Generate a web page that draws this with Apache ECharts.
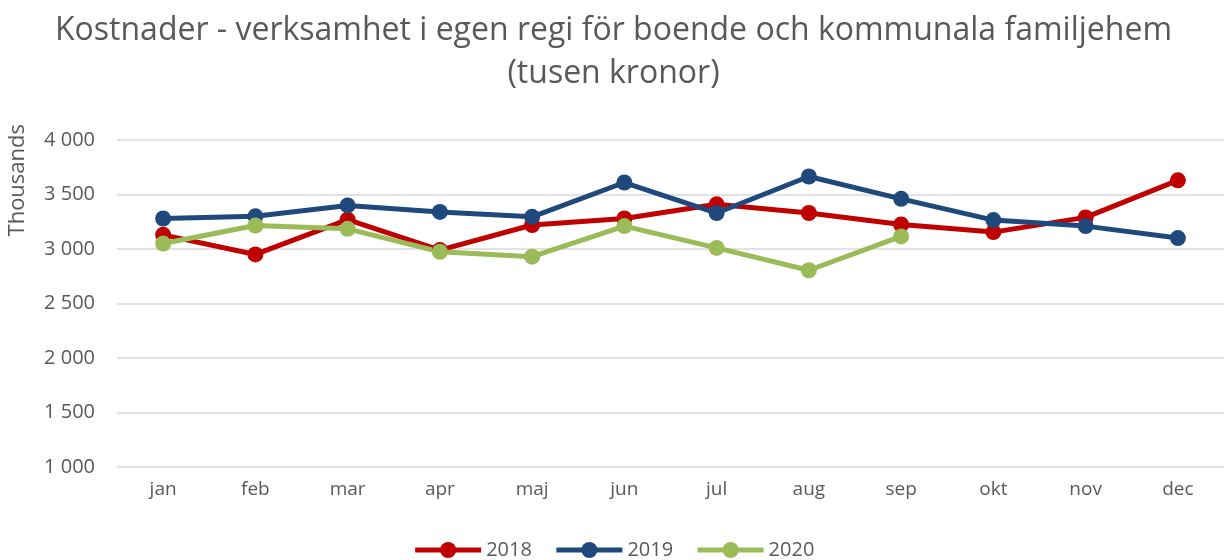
<!DOCTYPE html>
<html>
<head>
<meta charset="utf-8">
<script src="https://cdn.jsdelivr.net/npm/echarts@6/dist/echarts.min.js"></script>
<style>
html, body { margin: 0; padding: 0; background: #fff; }
#chart { width: 1227px; height: 560px; }
</style>
</head>
<body>
<div id="chart"></div>
<script>
var months = ['jan', 'feb', 'mar', 'apr', 'maj', 'jun', 'jul', 'aug', 'sep', 'okt', 'nov', 'dec'];
var y2018 = [3130, 2950, 3270, 2990, 3220, 3280, 3410, 3330, 3225, 3155, 3290, 3630];
var y2019 = [3280, 3300, 3400, 3340, 3295, 3610, 3330, 3665, 3460, 3265, 3210, 3100];
var y2020 = [3050, 3215, 3185, 2975, 2930, 3210, 3010, 2805, 3115];

var chart = echarts.init(document.getElementById('chart'));
var font = 'Open Sans';
var grey = '#595959';

function line(name, data, color) {
    return {
        name: name,
        type: 'line',
        data: data,
        symbol: 'circle',
        symbolSize: 16,
        lineStyle: { width: 5, color: color },
        itemStyle: { color: color },
        emphasis: { disabled: true }
    };
}

var option = {
    animation: false,
    textStyle: { fontFamily: font },
    title: {
        text: 'Kostnader - verksamhet i egen regi för boende och kommunala familjehem\n(tusen kronor)',
        left: 'center',
        top: 4,
        textStyle: { fontFamily: font, fontSize: 32, fontWeight: 'normal', color: grey, lineHeight: 43 }
    },
    graphic: [{
        type: 'text',
        left: 7,
        top: 124,
        rotation: Math.PI / 2,
        style: { text: 'Thousands', font: '22px "Open Sans"', fill: grey }
    }],
    grid: { left: 117, right: 3, top: 140, bottom: 93 },
    legend: {
        bottom: -5,
        left: 'center',
        itemWidth: 66,
        itemHeight: 20,
        itemGap: 22,
        lineStyle: { width: 5 },
        textStyle: { fontFamily: font, fontSize: 20, color: grey },
        data: ['2018', '2019', '2020']
    },
    xAxis: {
        type: 'category',
        data: months,
        axisLine: { show: false },
        axisTick: { show: false },
        axisLabel: { color: grey, fontSize: 19, margin: 13 }
    },
    yAxis: {
        type: 'value',
        min: 1000,
        max: 4000,
        interval: 500,
        axisLabel: {
            color: grey,
            fontSize: 20,
            margin: 22,
            formatter: function (v) { return String(v).replace(/\B(?=(\d{3})+(?!\d))/g, ' '); }
        },
        splitLine: { lineStyle: { color: '#d9d9d9', width: 1.5 } }
    },
    series: [
        line('2018', y2018, '#c00000'),
        line('2019', y2019, '#1f497d'),
        line('2020', y2020, '#9bbb59')
    ]
};
chart.setOption(option);
</script>
</body>
</html>
